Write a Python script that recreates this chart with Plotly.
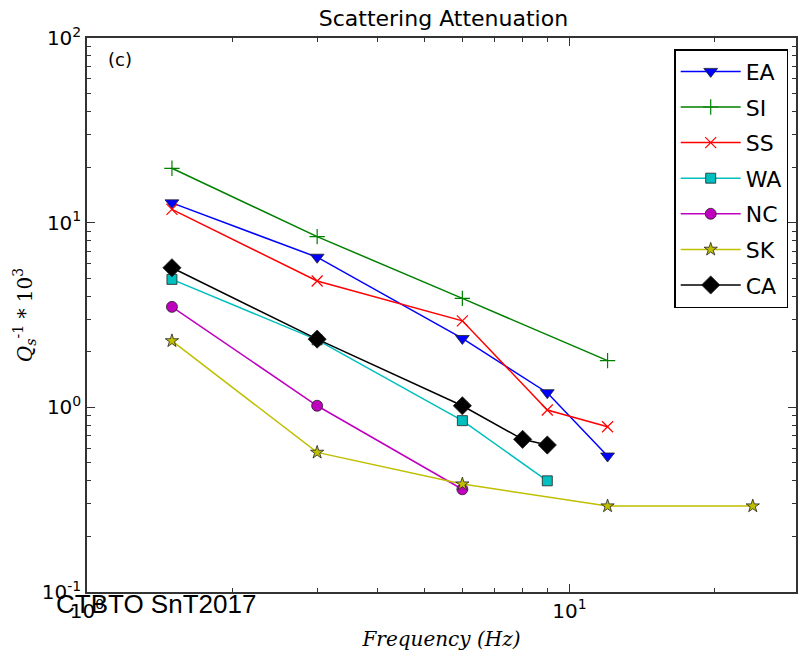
import plotly.graph_objects as go
import numpy as np

names = ["EA", "SI", "SS", "WA", "NC", "SK", "CA"]
freq_EA = [1.5, 3, 6, 9, 12]
val_EA = [12.8, 6.5, 2.36, 1.2, 0.545]
freq_SI = [1.5, 3, 6, 12]
val_SI = [19.7, 8.4, 3.89, 1.79]
freq_SS = [1.5, 3, 6, 9, 12]
val_SS = [11.8, 4.83, 2.94, 0.967, 0.785]
freq_WA = [1.5, 3, 6, 9]
val_WA = [4.93, 2.32, 0.847, 0.40]
freq_NC = [1.5, 3, 6]
val_NC = [3.5, 1.02, 0.36]
freq_SK = [1.5, 3, 6, 12, 24]
val_SK = [2.29, 0.57, 0.384, 0.292, 0.292]
freq_CA = [1.5, 3, 6, 8, 9]
val_CA = [5.70, 2.34, 1.02, 0.671, 0.625]

colors = ["#0000ff", "#008000", "#ff0000", "#00bfbf", "#bf00bf", "#bfbf00", "#000000"]
symbols = ["triangle-down", "cross-thin", "x-thin", "square", "circle", "star", "diamond"]
sizes = [12, 11, 11, 10, 11, 10, 14]

xs = [freq_EA, freq_SI, freq_SS, freq_WA, freq_NC, freq_SK, freq_CA]
ys = [val_EA, val_SI, val_SS, val_WA, val_NC, val_SK, val_CA]

fig = go.Figure()
for i, n in enumerate(names):
    thin = symbols[i].endswith("-thin")
    fig.add_trace(go.Scatter(
        x=xs[i], y=ys[i], mode="lines+markers", name=n, legendgroup=n,
        line=dict(color=colors[i], width=1.5),
        marker=dict(symbol=symbols[i], size=sizes[i], color=colors[i],
                    line=dict(color=colors[i] if thin else "#222222", width=1.2 if thin else 0.8)),
    ))

ytv = [0.1, 1, 10, 100]
ytt = ["10<sup>-1</sup>", "10<sup>0</sup>", "10<sup>1</sup>", "10<sup>2</sup>"]
xtv = [1, 10]
xtt = ["10<sup>0</sup>", "10<sup>1</sup>"]
yminor = [m * 10.0**e for e in (-1, 0, 1) for m in range(2, 10)]
xminor = [m * 10.0**e for e in (0, 1) for m in range(2, 10) if m * 10.0**e < 30]

fig.update_layout(
    width=799, height=652,
    margin=dict(l=87, r=1, t=38, b=60),
    paper_bgcolor="white", plot_bgcolor="white",
    font=dict(family="DejaVu Sans", size=18, color="black"),
    title=dict(text="Scattering Attenuation", x=0.555, xanchor="center", y=0.972, yanchor="middle",
               font=dict(size=22, family="DejaVu Sans")),
    xaxis=dict(type="log", range=[0, np.log10(29.5)], tickvals=xtv, ticktext=xtt,
               ticks="inside", ticklen=8, tickwidth=1, tickcolor="#333",
               tickfont=dict(size=20),
               showline=True, linecolor="#333", linewidth=1.5, mirror="allticks",
               showgrid=False, zeroline=False,
               minor=dict(tickvals=xminor, ticks="inside", ticklen=4, tickcolor="#333", showgrid=False),
               title=dict(text="<i>Frequency (Hz)</i>", font=dict(family="DejaVu Serif", size=20), standoff=10)),
    yaxis=dict(type="log", range=[-1, 2], tickvals=ytv, ticktext=ytt,
               ticks="inside", ticklen=8, tickwidth=1, tickcolor="#333",
               tickfont=dict(size=20),
               showline=True, linecolor="#333", linewidth=1.5, mirror="allticks",
               showgrid=False, zeroline=False,
               minor=dict(tickvals=yminor, ticks="inside", ticklen=4, tickcolor="#333", showgrid=False),
               title=dict(text="<i>Q</i><sub><i>s</i></sub><sup>-1</sup><i> * </i>10<sup>3</sup>",
                          font=dict(family="DejaVu Serif", size=20), standoff=4)),
    legend=dict(x=0.989, xanchor="right", y=0.98, yanchor="top",
                bordercolor="black", borderwidth=1.5, bgcolor="white",
                font=dict(size=22, family="DejaVu Sans"), tracegroupgap=4, itemwidth=60),
    showlegend=True,
)

fig.add_annotation(text="(c)", xref="paper", yref="paper", x=0.027, y=0.962, xanchor="left", yanchor="middle",
                   showarrow=False, font=dict(size=18, family="DejaVu Sans"))
fig.add_annotation(text="CTBTO SnT2017", xref="paper", yref="paper", x=-0.046, y=-0.022,
                   xanchor="left", yanchor="middle", showarrow=False,
                   font=dict(size=26, family="Liberation Sans", color="black"))

fig.write_html("out.html")
